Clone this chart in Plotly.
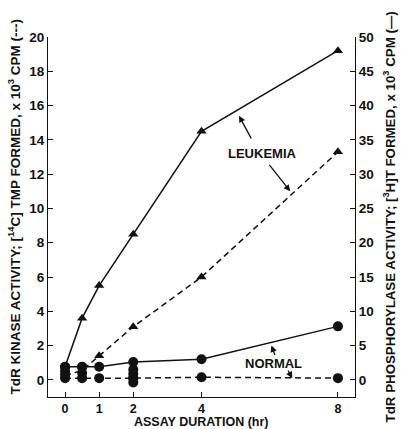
import plotly.graph_objects as go

# Assay duration (hr)
hours = [0, 0.5, 1, 2, 4, 8]
x_ticks = [0, 1, 2, 4, 8]

# Kinase activity (left axis, x10^3 CPM) -- dashed
leuk_kinase = [0.25, 0.55, 1.4, 3.1, 6.0, 13.3]
norm_kinase = [0.1, 0.1, 0.1, 0.1, 0.15, 0.1]

# Phosphorylase activity (right axis, x10^3 CPM) -- solid
leuk_phos = [1.9, 9.0, 13.75, 21.25, 36.25, 48.0]
norm_phos = [1.9, 1.9, 1.9, 2.6, 3.0, 7.8]

# replicate (overlapping) points on left-axis scale
rep_x = [0, 0, 0, 0.5, 0.5, 2, 2, 2, 2]
rep_y = [0.75, 0.5, 0.3, 0.75, 0.4, 0.6, 0.35, 0.1, -0.15]

FONT = "Liberation Sans, Arial, sans-serif"
BLK = "#111"

fig = go.Figure()

fig.add_trace(go.Scatter(x=hours, y=leuk_kinase, mode="lines",
                         line=dict(color=BLK, width=1.5, dash="6px,4px"), yaxis="y"))
fig.add_trace(go.Scatter(x=hours[2:], y=leuk_kinase[2:], mode="markers",
                         marker=dict(symbol="triangle-up", size=9, color=BLK), yaxis="y"))
fig.add_trace(go.Scatter(x=hours, y=norm_kinase, mode="lines+markers",
                         line=dict(color=BLK, width=1.5, dash="6px,4px"),
                         marker=dict(symbol="circle", size=10, color=BLK), yaxis="y"))
fig.add_trace(go.Scatter(x=rep_x, y=rep_y, mode="markers",
                         marker=dict(symbol="circle", size=10, color=BLK), yaxis="y"))

fig.add_trace(go.Scatter(x=hours, y=leuk_phos, mode="lines",
                         line=dict(color=BLK, width=1.5), yaxis="y2"))
fig.add_trace(go.Scatter(x=hours[1:], y=leuk_phos[1:], mode="markers",
                         marker=dict(symbol="triangle-up", size=9, color=BLK), yaxis="y2"))
fig.add_trace(go.Scatter(x=hours, y=norm_phos, mode="lines+markers",
                         line=dict(color=BLK, width=1.5),
                         marker=dict(symbol="circle", size=10, color=BLK), yaxis="y2"))

tickfont = dict(family=FONT, size=13.5, color=BLK, weight="bold")
xtickfont = dict(family=FONT, size=12.5, color=BLK, weight="bold")

fig.update_layout(
    width=401, height=429,
    margin=dict(l=48, r=46, t=37, b=32),
    paper_bgcolor="white", plot_bgcolor="white",
    showlegend=False,
    font=dict(family=FONT, color=BLK),
    xaxis=dict(range=[-0.5, 8.5], tickvals=x_ticks, ticktext=[str(v) for v in x_ticks],
               ticks="inside", ticklen=5, tickcolor=BLK, showgrid=False, zeroline=False,
               showline=True, linecolor=BLK, linewidth=1.2, tickfont=xtickfont),
    yaxis=dict(range=[-1, 20], dtick=2, tick0=0, ticks="inside", ticklen=5, tickcolor=BLK,
               showgrid=False, zeroline=False, showline=True, linecolor=BLK, linewidth=1.2,
               tickfont=tickfont),
    yaxis2=dict(range=[-2.5, 50], dtick=5, tick0=0, ticks="inside", ticklen=5, tickcolor=BLK,
                overlaying="y", side="right", showgrid=False, zeroline=False,
                showline=True, linecolor=BLK, linewidth=1.2, tickfont=tickfont),
)

tf = dict(family=FONT, size=13.5, color=BLK, weight="bold")
tf2 = dict(family=FONT, size=13.3, color=BLK, weight="bold")
af = dict(family=FONT, size=13, color=BLK, weight="bold")
xf = dict(family=FONT, size=12.5, color=BLK, weight="bold")
ann = [
    dict(text="TdR KINASE ACTIVITY; [<sup>14</sup>C] TMP FORMED, x 10<sup>3</sup> CPM (---)",
         xref="paper", yref="paper", x=-0.11, y=0.53, textangle=-90, showarrow=False,
         font=tf, xanchor="center", yanchor="middle"),
    dict(text="TdR PHOSPHORYLASE ACTIVITY; [<sup>3</sup>H]T FORMED, x 10<sup>3</sup> CPM (—)",
         xref="paper", yref="paper", x=1.112, y=0.5, textangle=-90, showarrow=False,
         font=tf2, xanchor="center", yanchor="middle"),
    dict(text="ASSAY DURATION (hr)", xref="paper", yref="paper", x=0.5, y=-0.07,
         showarrow=False, font=xf, xanchor="center", yanchor="middle"),
    dict(text="LEUKEMIA", x=5.8, y=13.2, xref="x", yref="y", showarrow=False, font=af),
    dict(text="", x=5.1, y=15.4, xref="x", yref="y", ax=13, ay=24, showarrow=True,
         arrowhead=2, arrowsize=1, arrowwidth=1.3, arrowcolor=BLK),
    dict(text="", x=6.6, y=11.0, xref="x", yref="y", ax=-22, ay=-28, showarrow=True,
         arrowhead=2, arrowsize=1, arrowwidth=1.3, arrowcolor=BLK),
    dict(text="NORMAL", x=6.1, y=0.94, xref="x", yref="y", showarrow=False, font=af),
    dict(text="", x=6.05, y=2.0, xref="x", yref="y", ax=4, ay=11, showarrow=True,
         arrowhead=2, arrowsize=1, arrowwidth=1.3, arrowcolor=BLK),
    dict(text="", x=6.66, y=0.1, xref="x", yref="y", ax=-5, ay=-9, showarrow=True,
         arrowhead=2, arrowsize=1, arrowwidth=1.3, arrowcolor=BLK),
]
fig.update_layout(annotations=ann)

fig.write_html("out.html", config={"displayModeBar": False},
               post_script="document.body.style.margin='0';")
